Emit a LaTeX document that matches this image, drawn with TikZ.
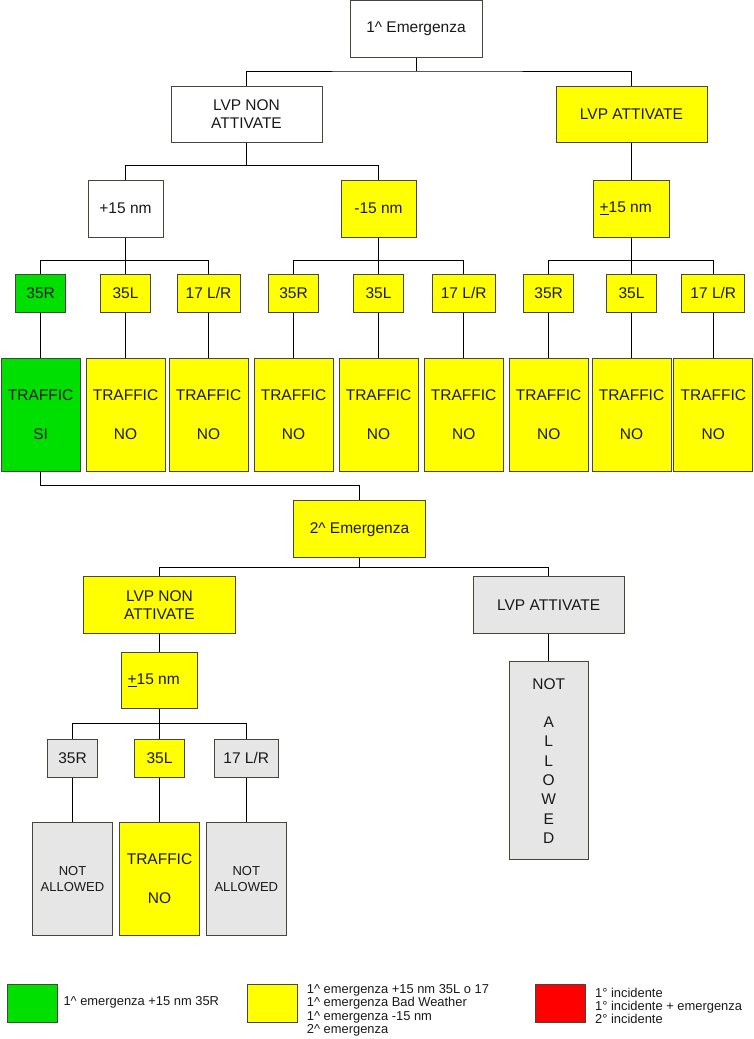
\documentclass[tikz,border=0pt]{standalone}
\usepackage{fontspec}
\setmainfont{Liberation Sans}
\definecolor{yel}{RGB}{255,255,0}
\definecolor{grn}{RGB}{0,224,0}
\definecolor{lgr}{RGB}{230,230,230}
\definecolor{rd}{RGB}{255,0,0}
\definecolor{bord}{RGB}{70,70,60}
\newcommand\fmain{\fontsize{15.5pt}{19.3pt}\selectfont}
\newcommand\flvp{\fontsize{15.5pt}{18.7pt}\selectfont}
\newcommand\fsmall{\fontsize{13pt}{16pt}\selectfont}
\newcommand\fleg{\fontsize{12.9pt}{13.3pt}\selectfont}
\newcommand\ca{\textasciicircum{}}
\begin{document}
\begin{tikzpicture}[x=1pt,y=-1pt,
  box/.style={draw=bord, line width=1pt, inner sep=0pt, align=center, text=black!90, font=\fmain},
  wh/.style={box, fill=white},
  ye/.style={box, fill=yel},
  gr/.style={box, fill=grn},
  gy/.style={box, fill=lgr},
  sz/.style 2 args={minimum width=#1pt, minimum height=#2pt},
  con/.style={draw=black, line width=1pt},
  leg/.style={anchor=west, inner sep=0pt, align=left, font=\fleg, text=black!90}]
\useasboundingbox (0,0) rectangle (754,1039);

% ---- first tree
\node[wh, sz={132}{57}] (e1) at (416,29) {1\ca\ Emergenza};
\node[wh, sz={151}{56}, font=\flvp] (lvpn1) at (246.5,114) {LVP NON\\ATTIVATE};
\node[ye, sz={151}{56}] (lvpa1) at (631.5,114) {LVP ATTIVATE};
\node[wh, sz={75}{57}] (p15) at (125.5,208.5) {+15 nm};
\node[ye, sz={75}{57}] (m15) at (378.5,208.5) {-15 nm};
\node[ye, sz={75.6}{57}] (pm15) at (631.5,208.5) {\underline{+}15 nm\hspace*{11.6pt}};

\node[gr, sz={50}{38}] (r1) at (40.7,293) {35R};
\node[ye, sz={50}{38}] (r2) at (125.5,293) {35L};
\node[ye, sz={63}{38}] (r3) at (208.5,293) {17 L/R};
\node[ye, sz={50}{38}] (r4) at (293.5,293) {35R};
\node[ye, sz={50}{38}] (r5) at (378.5,293) {35L};
\node[ye, sz={63}{38}] (r6) at (463.7,293) {17 L/R};
\node[ye, sz={50}{38}] (r7) at (548.7,293) {35R};
\node[ye, sz={50}{38}] (r8) at (631.5,293) {35L};
\node[ye, sz={63}{38}] (r9) at (713.3,293) {17 L/R};

\node[gr, sz={79}{113}] (t1) at (40.7,414.5) {TRAFFIC\\[19.3pt]SI};
\node[ye, sz={79}{113}] (t2) at (125.5,414.5) {TRAFFIC\\[19.3pt]NO};
\node[ye, sz={79}{113}] (t3) at (208.5,414.5) {TRAFFIC\\[19.3pt]NO};
\node[ye, sz={79}{113}] (t4) at (293.5,414.5) {TRAFFIC\\[19.3pt]NO};
\node[ye, sz={79}{113}] (t5) at (378.5,414.5) {TRAFFIC\\[19.3pt]NO};
\node[ye, sz={79}{113}] (t6) at (463.7,414.5) {TRAFFIC\\[19.3pt]NO};
\node[ye, sz={79}{113}] (t7) at (548.7,414.5) {TRAFFIC\\[19.3pt]NO};
\node[ye, sz={79}{113}] (t8) at (631.5,414.5) {TRAFFIC\\[19.3pt]NO};
\node[ye, sz={79}{113}] (t9) at (713.3,414.5) {TRAFFIC\\[19.3pt]NO};

% ---- second tree
\node[ye, sz={132}{57}] (e2) at (359.5,529.3) {2\ca\ Emergenza};
\node[ye, sz={151.6}{56.6}, font=\flvp] (lvpn2) at (159.5,605) {LVP NON\\ATTIVATE};
\node[gy, sz={151}{56.6}] (lvpa2) at (548.7,605) {LVP ATTIVATE};
\node[ye, sz={75.6}{56.4}] (pm15b) at (159.5,680.5) {\underline{+}15 nm\hspace*{11.6pt}};

\node[gy, sz={50.4}{38}] (s1) at (72.5,758) {35R};
\node[ye, sz={50}{38}] (s2) at (159.5,758) {35L};
\node[gy, sz={63.4}{38}] (s3) at (246.3,758) {17 L/R};

\node[gy, sz={79.6}{113}, font=\fsmall] (u1) at (72.5,878.8) {NOT\\ALLOWED};
\node[ye, sz={79.6}{113}] (u2) at (159.5,878.8) {TRAFFIC\\[19.3pt]NO};
\node[gy, sz={79.6}{113}, font=\fsmall] (u3) at (246.3,878.8) {NOT\\ALLOWED};

\node[gy, sz={79.3}{198.3}] (na) at (548.7,760.8) {NOT\\[19.3pt]A\\L\\L\\O\\W\\E\\D};

% ---- connectors
\coordinate (j1) at (416,71);
\draw[con] (e1.south) -- (j1);
\draw[con] (lvpn1.north) |- (j1) -| (lvpa1.north);
\coordinate (j2) at (246.5,165.7);
\draw[con] (lvpn1.south) -- (j2);
\draw[con] (p15.north) |- (j2) -| (m15.north);
\draw[con] (lvpa1.south) -- (pm15.north);

\coordinate (j3) at (125.5,260.3);
\coordinate (j4) at (378.5,260.3);
\coordinate (j5) at (631.5,260.3);
\draw[con] (p15.south) -- (r2.north);
\draw[con] (r1.north) |- (j3) -| (r3.north);
\draw[con] (m15.south) -- (r5.north);
\draw[con] (r4.north) |- (j4) -| (r6.north);
\draw[con] (pm15.south) -- (r8.north);
\draw[con] (r7.north) |- (j5) -| (r9.north);
\foreach \i in {1,...,9} { \draw[con] (r\i.south) -- (t\i.north); }

\coordinate (j6) at (359.5,485);
\draw[con] (t1.south) |- (j6) -- (e2.north);
\coordinate (j7) at (359.5,567.3);
\draw[con] (e2.south) -- (j7);
\draw[con] (lvpn2.north) |- (j7) -| (lvpa2.north);
\draw[con] (lvpn2.south) -- (pm15b.north);
\coordinate (j8) at (159.5,723.3);
\draw[con] (pm15b.south) -- (s2.north);
\draw[con] (s1.north) |- (j8) -| (s3.north);
\foreach \i in {1,2,3} { \draw[con] (s\i.south) -- (u\i.north); }
\draw[con] (lvpa2.south) -- (na.north);

% ---- legend
\node[gr, sz={50}{38}] (lg) at (32.3,1003.3) {};
\node[leg] (lgt) at (63.3,1002.3) {1\ca\ emergenza +15 nm 35R};
\node[ye, sz={50.4}{38}] (ly) at (272.5,1003.3) {};
\node[leg] (lyt) at (306.7,1010.3) {1\ca\ emergenza +15 nm 35L o 17\\1\ca\ emergenza Bad Weather\\1\ca\ emergenza -15 nm\\2\ca\ emergenza};
\node[box, fill=rd, sz={50}{38}] (lr) at (560,1003.3) {};
\node[leg] (lrt) at (595,1006) {1° incidente\\1° incidente + emergenza\\2° incidente};
\end{tikzpicture}
\end{document}
